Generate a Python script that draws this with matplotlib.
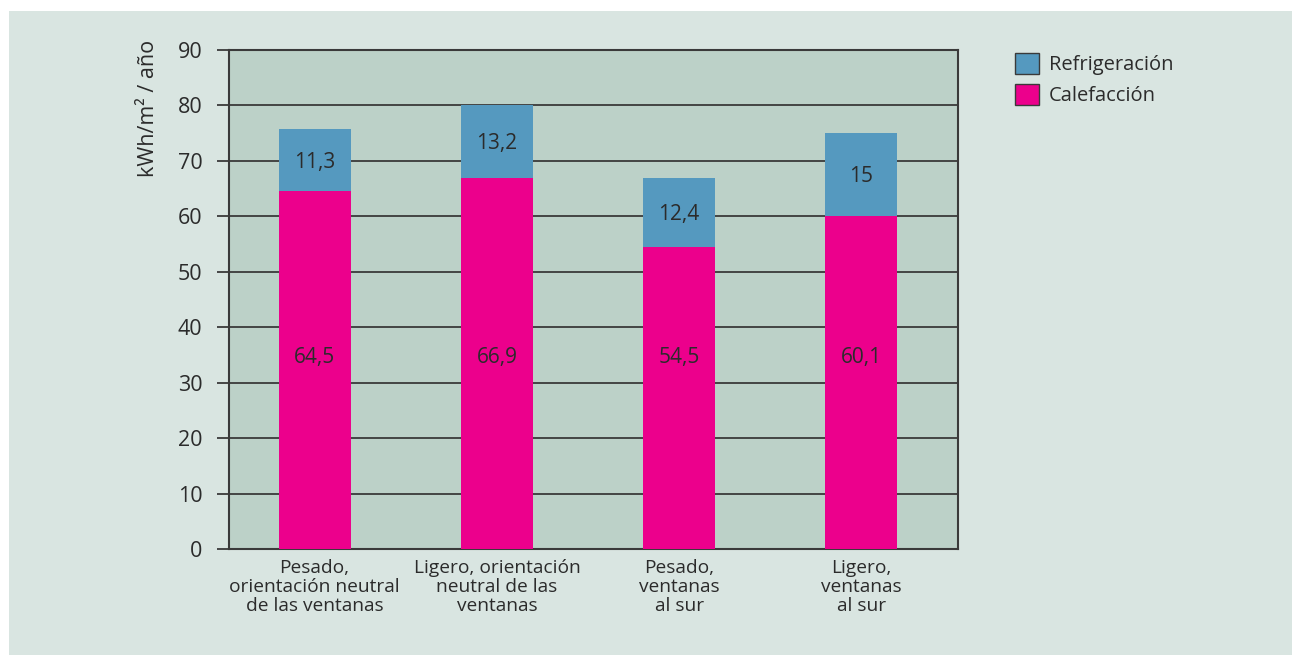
import numpy as np
from matplotlib import pyplot as plt
from matplotlib.patches import Rectangle, Patch

# datos
categorias = ["Pesado,\norientación neutral\nde las ventanas",
              "Ligero, orientación\nneutral de las\nventanas",
              "Pesado,\nventanas\nal sur",
              "Ligero,\nventanas\nal sur"]
calefaccion = [64.5, 66.9, 54.5, 60.1]
refrigeracion = [11.3, 13.2, 12.4, 15]
etiq_calef = ["64,5", "66,9", "54,5", "60,1"]
etiq_refri = ["11,3", "13,2", "12,4", "15"]

plt.rcParams['font.family'] = ['Open Sans', 'DejaVu Sans']
texto = '#2b2b2b'
linea = '#3a3a3a'
magenta = '#ec008c'
azul = '#5599bf'

fig = plt.figure(figsize=(12.92, 6.55), dpi=100)
fig.patch.set_facecolor('white')
# panel de fondo
fig.patches.append(Rectangle((9 / 1292, 0), 1, 1 - 11 / 655, transform=fig.transFigure,
                             facecolor='#d9e5e1', edgecolor='none', zorder=-1))

ax = fig.add_axes([229 / 1292, 1 - 549 / 655, (958 - 229) / 1292, (549 - 50) / 655])
ax.set_facecolor('#bcd1c8')

x = np.arange(len(categorias))
ancho = 0.395
ax.bar(x, calefaccion, ancho, color=magenta, zorder=3)
ax.bar(x, refrigeracion, ancho, bottom=calefaccion, color=azul, zorder=3)

for i in x:
    # las etiquetas de calefacción van todas a la misma altura
    ax.text(i, 35, etiq_calef[i], ha='center', va='center_baseline',
            fontsize=15, color=texto, zorder=4)
    ax.text(i, calefaccion[i] + refrigeracion[i] / 2, etiq_refri[i], ha='center',
            va='center_baseline', fontsize=15, color=texto, zorder=4)

ax.set_xlim(-0.47, 3.53)
ax.set_ylim(0, 90)
ax.set_yticks(range(0, 91, 10))
ax.yaxis.grid(True, color=linea, linewidth=1.3, zorder=1)
ax.set_axisbelow(True)
for s in ax.spines.values():
    s.set_color(linea)
    s.set_linewidth(1.5)
ax.tick_params(axis='y', length=9, width=1.3, color=linea, labelsize=15.5,
               labelcolor=texto, pad=10)
ax.set_xticks(x)
ax.set_xticklabels(categorias, fontsize=13.8, color=texto, linespacing=1.08)
ax.tick_params(axis='x', length=0, pad=7)

fig.text(148 / 1292, 1 - 108 / 655, "kWh/m² / año", rotation=90, ha='center', va='center',
         fontsize=15.5, color=texto)

# leyenda
handles = [Patch(facecolor=azul, edgecolor=linea, label="Refrigeración"),
           Patch(facecolor=magenta, edgecolor=linea, label="Calefacción")]
fig.legend(handles=handles, loc='upper left', bbox_to_anchor=(1015 / 1292, 1 - 53 / 655),
           frameon=False, fontsize=14.5, handlelength=1.2, handleheight=1.2,
           handletextpad=0.5, labelspacing=0.45, labelcolor=texto,
           borderpad=0, borderaxespad=0)

plt.savefig("out.png", dpi=100, facecolor=fig.get_facecolor())
